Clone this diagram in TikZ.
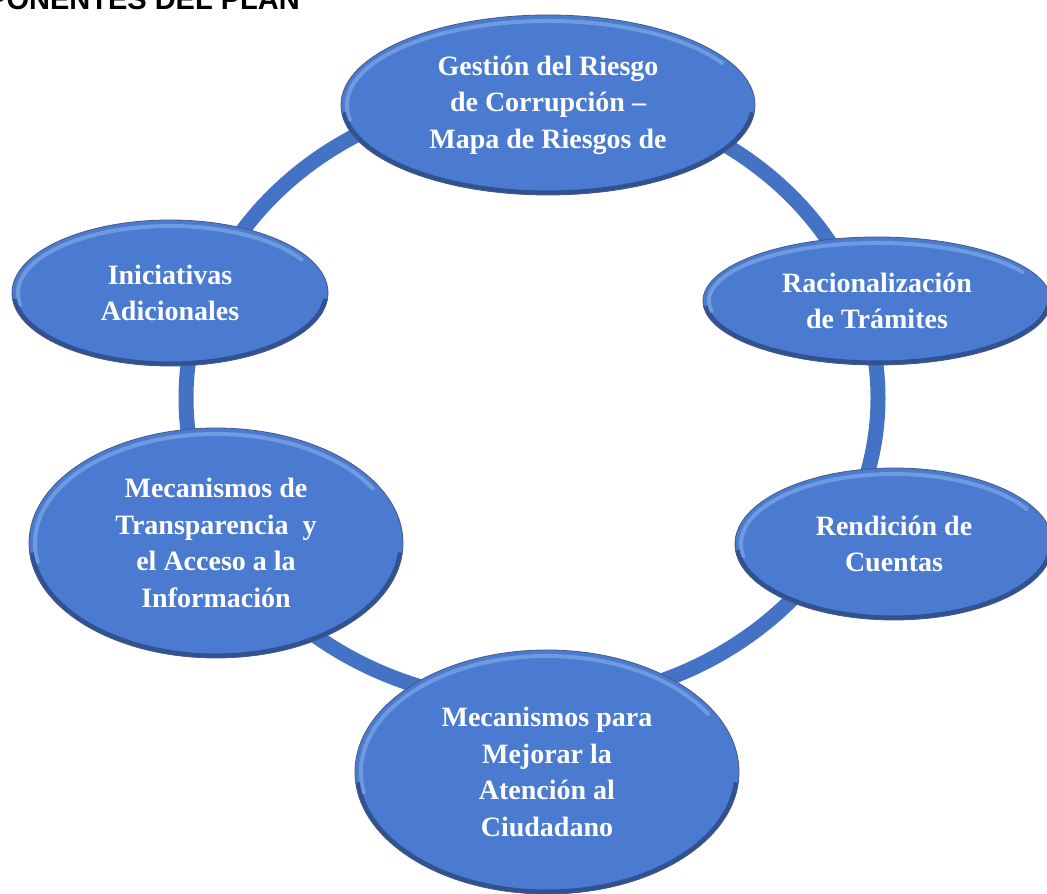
\documentclass[tikz,border=0pt]{standalone}
\usepackage{fontspec}
\usetikzlibrary{shapes.geometric}
\newfontfamily\textoserif{Liberation Serif}
\newfontfamily\textosans{Liberation Sans}

\definecolor{azulanillo}{HTML}{4472C4}
\definecolor{azulbase}{HTML}{4A7BD0}
\definecolor{azulborde}{HTML}{3560A8}
\definecolor{azuloscuro}{HTML}{1B3060}
\definecolor{azulclaro}{HTML}{9CC0F5}

\pgfdeclareradialshading{bisel}{\pgfpoint{-4bp}{4bp}}{%
  color(0bp)=(azulbase); color(44bp)=(azulbase); color(48bp)=(azulborde); color(50bp)=(azuloscuro)}

\tikzset{
  anillo/.style={draw=azulanillo, line width=15pt},
  componente/.style 2 args={ellipse, minimum width=#1, minimum height=#2, inner sep=0pt,
    shading=bisel, draw=azuloscuro!80, line width=0.8pt, text=white, align=center,
    font=\textoserif\bfseries\fontsize{28}{36.5}\selectfont,
    path picture={%
      % dark rim along the lower edge
      \draw[azuloscuro, line width=9pt, opacity=0.55]
        (path picture bounding box.center) ++(185:{0.5*#1} and {0.5*#2})
        arc[start angle=185, end angle=355, x radius={0.5*#1}, y radius={0.5*#2}];
      % light band along the upper edge
      \draw[azulclaro, line width=4pt, line cap=round, opacity=0.45]
        (path picture bounding box.center) ++(190:{0.5*#1-6pt} and {0.5*#2-6pt})
        arc[start angle=190, end angle=30, x radius={0.5*#1-6pt}, y radius={0.5*#2-6pt}];}},
  titulo/.style={font=\textosans\bfseries\fontsize{29}{34}\selectfont, text=black, inner sep=0pt}
}

\begin{document}
\begin{tikzpicture}[x=1pt,y=1pt]
    \useasboundingbox (0,0) rectangle (1047,894);
    \clip (0,0) rectangle (1047,894);
    \fill[white] (0,0) rectangle (1047,894);

    % Title, cut at the page edge
    \node[titulo, anchor=base east] (titulo) at (300,884.5) {COMPONENTES DEL PLAN};

    % The ring behind the components
    \coordinate (centro) at (532,496);
    \draw[anillo] (centro) ellipse [x radius=346, y radius=305];

    % The six components
    \node[componente={414pt}{180pt}] (gestion) at (548,789)
      {Gestión del Riesgo\\de Corrupción –\\Mapa de Riesgos de};
    \node[componente={316pt}{146pt}] (iniciativas) at (170,601)
      {Iniciativas\\Adicionales};
    \node[componente={348pt}{128pt}] (racionalizacion) at (877,593)
      {Racionalización\\de Trámites};
    \node[componente={374pt}{230pt}] (transparencia) at (216,351)
      {Mecanismos de\\Transparencia~ y\\el Acceso a la\\Información};
    \node[componente={318pt}{152pt}] (rendicion) at (894,350)
      {Rendición de\\Cuentas};
    \node[componente={384pt}{244pt}] (atencion) at (547,122)
      {Mecanismos para\\Mejorar la\\Atención al\\Ciudadano};
  \end{tikzpicture}
\end{document}
